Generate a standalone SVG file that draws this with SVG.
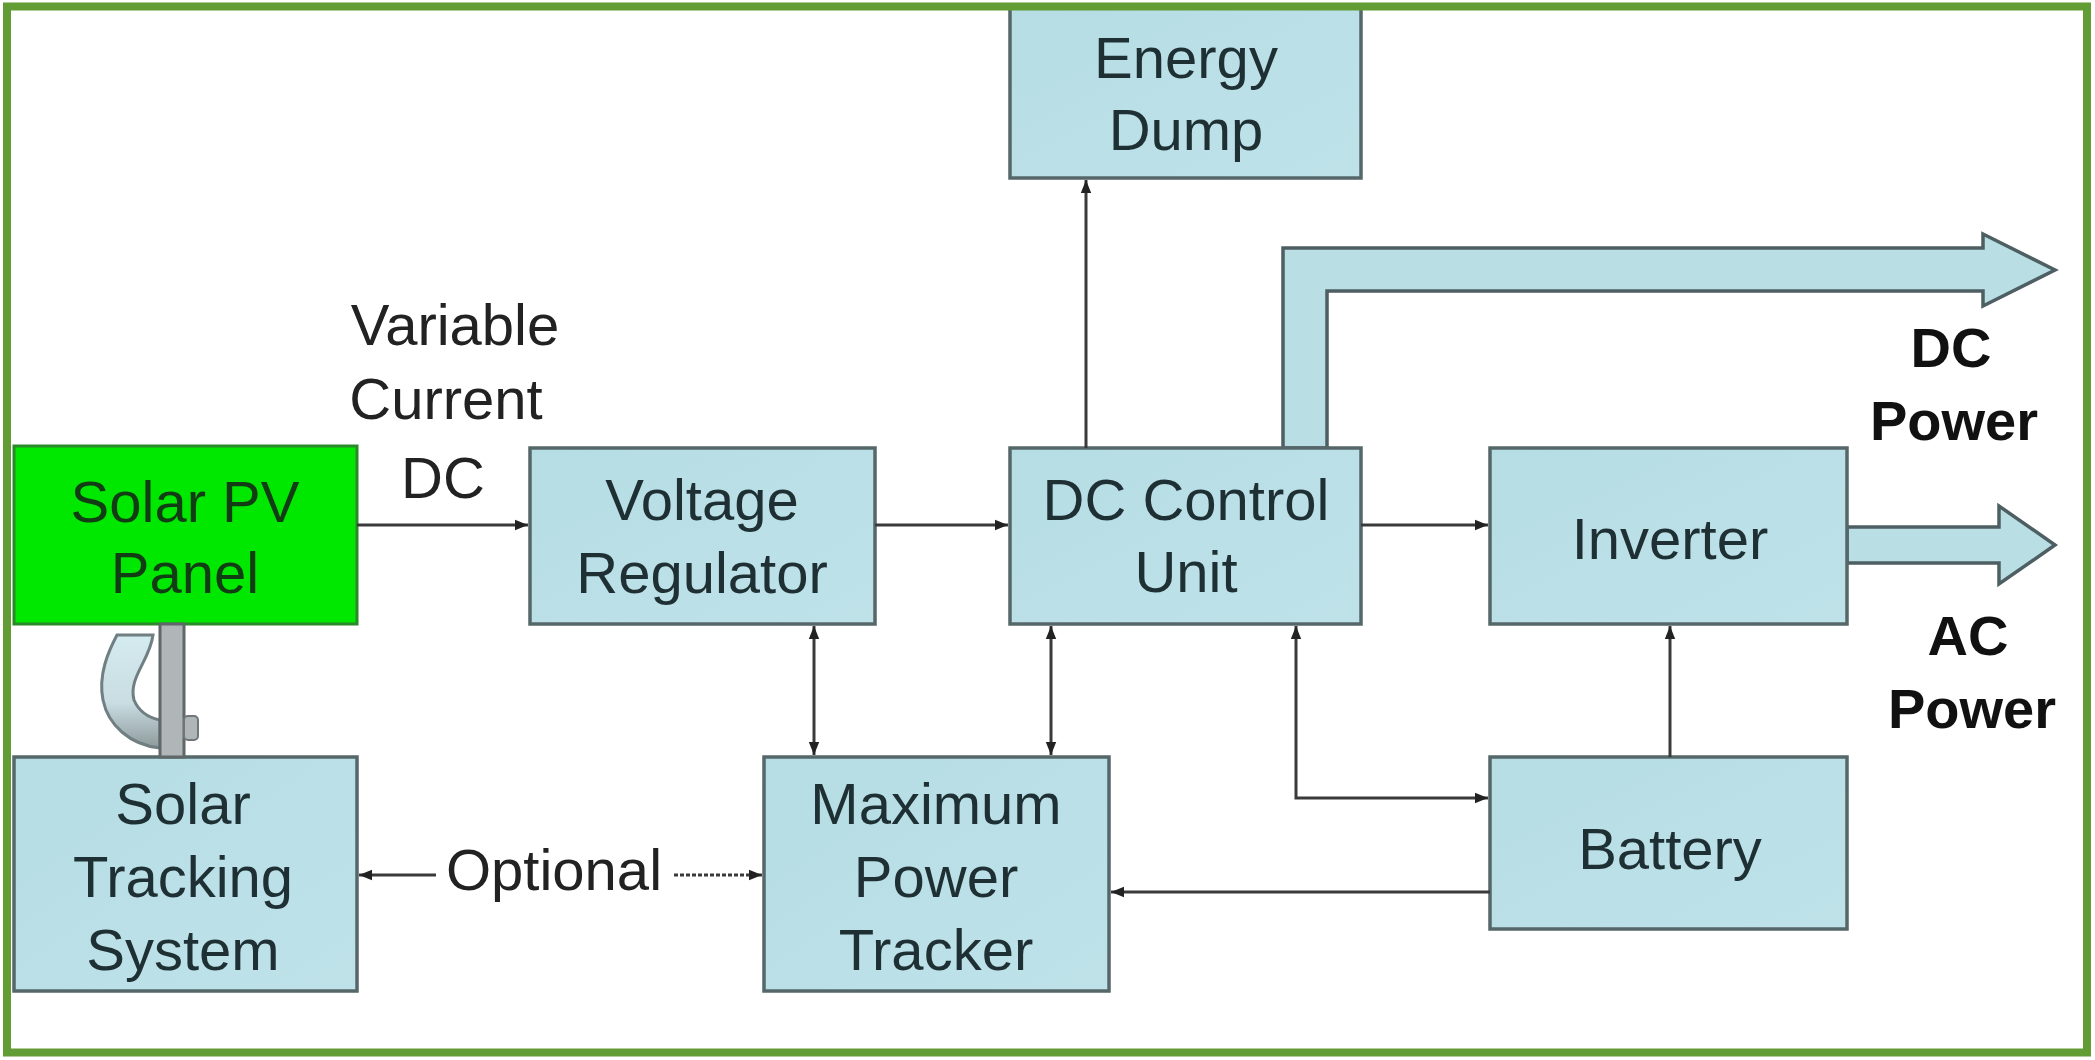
<svg xmlns="http://www.w3.org/2000/svg" width="2095" height="1060" viewBox="0 0 2095 1060">
<style>
.box{fill:url(#bg);stroke:#56676a;stroke-width:3.5}
.t{font-family:"Liberation Sans",Arial,sans-serif;font-size:58px;fill:#1e3034;text-anchor:middle}
.lb{font-family:"Liberation Sans",Arial,sans-serif;font-size:58px;fill:#222;text-anchor:middle}
.bl{font-family:"Liberation Sans",Arial,sans-serif;font-size:56px;font-weight:bold;fill:#111;text-anchor:middle}
.c{fill:none;stroke:#3a3a3a;stroke-width:3}
.big{fill:#b9dfe5;stroke:#4d5f62;stroke-width:3.5;stroke-linejoin:miter}
</style>
<defs>
<linearGradient id="bg" x1="0" y1="0" x2="1" y2="1">
<stop offset="0" stop-color="#b6dde4"/>
<stop offset="1" stop-color="#bfe2e9"/>
</linearGradient>
<linearGradient id="curl" x1="0" y1="0" x2="0" y2="1">
<stop offset="0" stop-color="#d4ebf0"/>
<stop offset="0.6" stop-color="#c9dde2"/>
<stop offset="1" stop-color="#8e9a9c"/>
</linearGradient>
<marker id="ah" viewBox="0 0 10 10" refX="10" refY="5" markerWidth="13" markerHeight="13" markerUnits="userSpaceOnUse" orient="auto-start-reverse">
<path d="M0,1 L10,5 L0,9 z" fill="#222"/>
</marker>
</defs>
<rect x="0" y="0" width="2095" height="1060" fill="#ffffff"/>

<g id="energy-dump">
<rect class="box" x="1010" y="8" width="351" height="170"/>
<text class="t" x="1186" y="78">Energy</text>
<text class="t" x="1186" y="150">Dump</text>
</g>

<g id="dc-power-arrow">
<path class="big" d="M1283,448 L1283,248 L1983,248 L1983,234 L2055,270 L1983,306 L1983,291 L1327,291 L1327,448 Z"/>
</g>
<g id="ac-power-arrow">
<path class="big" d="M1847,527 L1999,527 L1999,506 L2055,545 L1999,584 L1999,563 L1847,563 Z"/>
</g>

<g id="solar-pv-panel">
<rect x="14" y="446" width="343" height="178" fill="#00e800" stroke="#2a8a2a" stroke-width="3"/>
<text class="t" x="185" y="522" style="fill:#123c14">Solar PV</text>
<text class="t" x="185" y="593" style="fill:#123c14">Panel</text>
</g>

<g id="voltage-regulator">
<rect class="box" x="530" y="448" width="345" height="176"/>
<text class="t" x="702" y="520">Voltage</text>
<text class="t" x="702" y="593">Regulator</text>
</g>

<g id="dc-control-unit">
<rect class="box" x="1010" y="448" width="351" height="176"/>
<text class="t" x="1186" y="520">DC Control</text>
<text class="t" x="1186" y="592">Unit</text>
</g>

<g id="inverter">
<rect class="box" x="1490" y="448" width="357" height="176"/>
<text class="t" x="1670" y="559">Inverter</text>
</g>

<g id="battery">
<rect class="box" x="1490" y="757" width="357" height="172"/>
<text class="t" x="1670" y="869">Battery</text>
</g>

<g id="maximum-power-tracker">
<rect class="box" x="764" y="757" width="345" height="234"/>
<text class="t" x="936" y="824">Maximum</text>
<text class="t" x="936" y="897">Power</text>
<text class="t" x="936" y="970">Tracker</text>
</g>

<g id="solar-tracking-system">
<rect class="box" x="14" y="757" width="343" height="234"/>
<text class="t" x="183" y="824">Solar</text>
<text class="t" x="183" y="897">Tracking</text>
<text class="t" x="183" y="970">System</text>
</g>

<g id="tracker-mount">
<path d="M117,635 L153,635 C150,660 128,678 134,700 C139,712 150,718 160,720 L160,748 C130,745 108,725 103,700 C98,675 108,652 117,635 Z" fill="url(#curl)" stroke="#6f7f82" stroke-width="3"/>
<rect x="160" y="624" width="24" height="133" fill="#b0b6b8" stroke="#5f6769" stroke-width="3"/>
<rect x="184" y="716" width="14" height="24" rx="4" fill="#b0b6b8" stroke="#6f7779" stroke-width="2"/>
</g>

<g id="connectors">
<line class="c" x1="357" y1="525" x2="528" y2="525" marker-end="url(#ah)"/>
<line class="c" x1="875" y1="525" x2="1008" y2="525" marker-end="url(#ah)"/>
<line class="c" x1="1361" y1="525" x2="1488" y2="525" marker-end="url(#ah)"/>
<line class="c" x1="1086" y1="448" x2="1086" y2="180" marker-end="url(#ah)"/>
<line class="c" x1="814" y1="626" x2="814" y2="755" marker-start="url(#ah)" marker-end="url(#ah)"/>
<line class="c" x1="1051" y1="626" x2="1051" y2="755" marker-start="url(#ah)" marker-end="url(#ah)"/>
<polyline class="c" points="1296,626 1296,798 1488,798" marker-start="url(#ah)" marker-end="url(#ah)"/>
<line class="c" x1="1670" y1="757" x2="1670" y2="626" marker-end="url(#ah)"/>
<line class="c" x1="1490" y1="892" x2="1111" y2="892" marker-end="url(#ah)"/>
<line class="c" x1="436" y1="875" x2="359" y2="875" stroke="#777" marker-end="url(#ah)"/>
<line class="c" x1="674" y1="875" x2="762" y2="875" stroke="#888" stroke-dasharray="4 2" marker-end="url(#ah)"/>
<text class="lb" x="554" y="890">Optional</text>
</g>

<g id="labels">
<text class="lb" x="455" y="345">Variable</text>
<text class="lb" x="446" y="419">Current</text>
<text class="lb" x="443" y="498">DC</text>
<text class="bl" x="1951" y="367">DC</text>
<text class="bl" x="1954" y="440">Power</text>
<text class="bl" x="1968" y="655">AC</text>
<text class="bl" x="1972" y="728">Power</text>
</g>

<rect x="7" y="6.5" width="2080" height="1046" fill="none" stroke="#629c34" stroke-width="8"/>
</svg>
